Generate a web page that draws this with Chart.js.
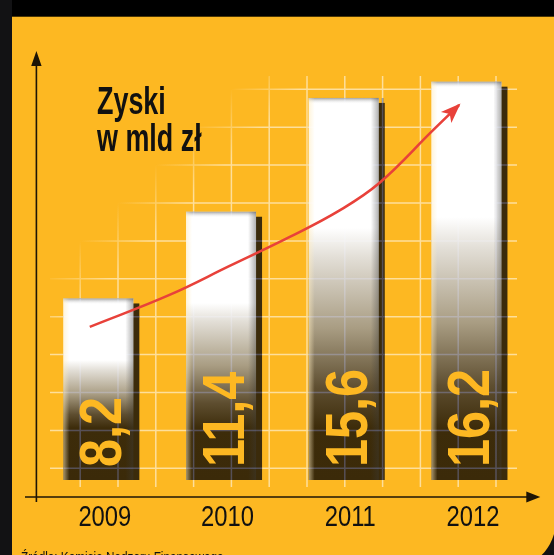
<!DOCTYPE html>
<html lang="pl">
<head>
<meta charset="utf-8">
<script src="https://cdn.jsdelivr.net/npm/chart.js@4.4.0/dist/chart.umd.min.js"></script>
<style>
html, body { margin: 0; padding: 0; }
body { width: 554px; height: 555px; background: #121214; position: relative; overflow: hidden;
       font-family: 'Liberation Sans', Arial, sans-serif; }
#topbar { position: absolute; left: 12px; top: 0; width: 542px; height: 16px; background: #000; border-bottom: 1px solid #4a3605; }
#panel { position: absolute; left: 12px; top: 17px; width: 544px; height: 553px; background: #fdb822; border-bottom-right-radius: 50px; }
#wrap { position: absolute; left: 0; top: 0; width: 554px; height: 555px; }
#title { position: absolute; left: 97px; top: 82px; font-weight: bold; font-size: 39px; line-height: 37.4px;
         color: #111; transform: scaleX(0.69); transform-origin: 0 0; white-space: nowrap; }
#source { position: absolute; left: 21px; top: 550px; font-size: 14px; line-height: 14px; color: #111;
          transform: scaleX(0.84); transform-origin: 0 0; white-space: nowrap; }
</style>
</head>
<body>
<div id="topbar"></div>
<div id="panel"></div>
<div id="wrap"><canvas id="zyski"></canvas></div>
<div id="title">Zyski<br>w mld zł</div>
<div id="source">Źródło: Komisja Nadzoru Finansowego</div>
<script>
let years = ['2009', '2010', '2011', '2012'];
let profits = [8.2, 11.4, 15.6, 16.2];
// red arrow: x = category index, y = value units
let trendX = [-0.07, 0.58, 1.07, 1.56, 1.97, 2.29, 2.73, 2.94];
let trendY = [7.15, 8.33, 9.40, 10.47, 11.46, 12.46, 14.42, 15.34];

let sans = "'Liberation Sans', Arial, sans-serif";

let trend = [];
for (var i = 0; i < trendX.length; i++) {
    trend[i] = {x: trendX[i], y: trendY[i]};
}

function barFill(c) {
    let chart = c.chart;
    if (!chart.chartArea) return '#ffffff';
    let top = chart.scales.y.getPixelForValue(c.raw);
    let bottom = chart.chartArea.bottom;
    let h = bottom - top;
    let s0 = 0.34;
    let s1 = Math.max(s0 + 0.1, (h - 52) / h);
    let g = chart.ctx.createLinearGradient(0, top, 0, bottom);
    g.addColorStop(0, '#ffffff');
    g.addColorStop(s0, '#ffffff');
    g.addColorStop(s0 + (s1 - s0) * 0.15, '#e2ded6');
    g.addColorStop(s0 + (s1 - s0) * 0.5, '#a99d83');
    g.addColorStop(s0 + (s1 - s0) * 0.8, '#5e4e30');
    g.addColorStop(s1, '#3d2c0a');
    g.addColorStop(1, '#3b2a09');
    return g;
}

function gridPath(ctx, a) {
    ctx.beginPath();
    for (var k = 0; k < 12; k++) {
        let x = a.left + 43.2 + k * 37.8;
        ctx.moveTo(x, a.top + 16);
        ctx.lineTo(x, a.bottom + 7);
    }
    for (var k = 0; k < 11; k++) {
        let y = a.top + 29.3 + k * 37.9;
        ctx.moveTo(a.left + 13, y);
        ctx.lineTo(a.left + 480, y);
    }
}

let decor = {
    id: 'decor',
    beforeDatasetsDraw(chart) {
        let ctx = chart.ctx, a = chart.chartArea;
        // background grid, fading out towards the title corner
        let fade = ctx.createLinearGradient(a.left + 123, a.top + 100, a.left + 158, a.top + 135);
        fade.addColorStop(0, 'rgba(255,255,255,0)');
        fade.addColorStop(1, 'rgba(255,255,255,0.55)');
        ctx.save();
        ctx.strokeStyle = fade;
        ctx.lineWidth = 1.5;
        gridPath(ctx, a);
        ctx.stroke();
        ctx.restore();
    },
    beforeDatasetDraw(chart, args) {
        if (args.meta.type !== 'bar') return;
        let ctx = chart.ctx, a = chart.chartArea;
        ctx.save();
        ctx.fillStyle = '#3b2b0b';
        args.meta.data.forEach(function (el) {
            let b = Math.min(el.base, a.bottom);
            ctx.fillRect(el.x - el.width / 2 + 6, el.y + 5, el.width, b - el.y - 5);
        });
        ctx.restore();
    },
    afterDatasetDraw(chart, args) {
        let ctx = chart.ctx, a = chart.chartArea;
        if (args.meta.type === 'bar') {
            let bars = args.meta.data;
            ctx.save();
            bars.forEach(function (el) {
                let l = el.x - el.width / 2, r = el.x + el.width / 2;
                let t = el.y, b = Math.min(el.base, a.bottom);
                let g = ctx.createLinearGradient(0, t, 0, t + 6);
                g.addColorStop(0, 'rgba(130,130,130,0.75)');
                g.addColorStop(1, 'rgba(255,255,255,0)');
                ctx.fillStyle = g;
                ctx.fillRect(l, t, el.width, 6);
                g = ctx.createLinearGradient(r - 8, 0, r, 0);
                g.addColorStop(0, 'rgba(60,60,60,0)');
                g.addColorStop(1, 'rgba(60,60,60,0.4)');
                ctx.fillStyle = g;
                ctx.fillRect(r - 8, t, 8, b - t);
                g = ctx.createLinearGradient(l, 0, l + 6, 0);
                g.addColorStop(0, 'rgba(255,236,190,0.55)');
                g.addColorStop(1, 'rgba(255,236,190,0)');
                ctx.fillStyle = g;
                ctx.fillRect(l, t, 6, b - t);
            });
            // grid showing faintly through the dark part of the bars
            ctx.beginPath();
            bars.forEach(function (el) {
                ctx.rect(el.x - el.width / 2, el.y, el.width + 6, Math.min(el.base, a.bottom) - el.y);
            });
            ctx.clip();
            ctx.globalCompositeOperation = 'screen';
            ctx.strokeStyle = 'rgb(34,44,80)';
            ctx.lineWidth = 1.5;
            gridPath(ctx, a);
            ctx.stroke();
            ctx.restore();
            // values written up the bars
            ctx.save();
            ctx.font = 'bold 60px ' + sans;
            ctx.fillStyle = '#fdb822';
            ctx.textAlign = 'left';
            ctx.textBaseline = 'alphabetic';
            bars.forEach(function (el, i) {
                ctx.save();
                ctx.translate(el.x + 23, a.bottom - 13);
                ctx.rotate(-Math.PI / 2);
                ctx.scale(0.84, 1);
                ctx.fillText(profits[i].toFixed(1).replace('.', ','), 0, 0);
                ctx.restore();
            });
            ctx.restore();
        } else if (args.meta.type === 'line') {
            let pts = args.meta.data;
            let p1 = pts[pts.length - 1], p0 = pts[pts.length - 2];
            let ang = Math.atan2(p1.y - p0.y, p1.x - p0.x);
            ctx.save();
            ctx.translate(p1.x, p1.y);
            ctx.rotate(ang);
            ctx.fillStyle = '#e8413a';
            ctx.beginPath();
            ctx.moveTo(2, 0);
            ctx.lineTo(-18, -7.5);
            ctx.lineTo(-13, 0);
            ctx.lineTo(-18, 7.5);
            ctx.closePath();
            ctx.fill();
            ctx.restore();
        }
    },
    afterDraw(chart) {
        let ctx = chart.ctx, a = chart.chartArea;
        let ax = a.left - 0.6, ay = a.bottom + 17;
        ctx.save();
        ctx.strokeStyle = '#1e1505';
        ctx.fillStyle = '#1e1505';
        ctx.lineWidth = 1.6;
        ctx.beginPath();
        ctx.moveTo(ax, a.bottom + 22);
        ctx.lineTo(ax, a.top);
        ctx.moveTo(a.left - 12, ay);
        ctx.lineTo(a.right, ay);
        ctx.stroke();
        ctx.beginPath();
        ctx.moveTo(ax, a.top - 9);
        ctx.lineTo(ax - 5.2, a.top + 6);
        ctx.lineTo(ax + 5.2, a.top + 6);
        ctx.closePath();
        ctx.moveTo(a.right + 12.5, ay);
        ctx.lineTo(a.right - 1.5, ay - 5.5);
        ctx.lineTo(a.right - 1.5, ay + 5.5);
        ctx.closePath();
        ctx.fill();
        // year labels under the axis, in a narrow face
        let xs = chart.scales.x;
        ctx.fillStyle = '#111';
        ctx.font = '29px ' + sans;
        ctx.textAlign = 'center';
        ctx.textBaseline = 'alphabetic';
        years.forEach(function (yr, i) {
            ctx.save();
            ctx.translate(xs.getPixelForValue(i) + 6.5, a.bottom + 46);
            ctx.scale(0.82, 1);
            ctx.fillText(yr, 0, 0);
            ctx.restore();
        });
        ctx.restore();
    }
};

let ctxZ = document.getElementById('zyski').getContext('2d');

let chartZ = new Chart(ctxZ, {
    type: 'bar',
    data: {
        labels: years,
        datasets: [{
                label: 'Zyski',
                data: profits,
                backgroundColor: barFill,
                borderWidth: 0,
                barPercentage: 0.5705,
                categoryPercentage: 1,
                grouped: false,
                order: 1
            }, {
                type: 'line',
                label: 'trend',
                data: trend,
                xAxisID: 'xt',
                yAxisID: 'y',
                borderColor: '#e8413a',
                borderWidth: 2.6,
                pointRadius: 0,
                tension: 0.4,
                fill: false,
                order: 0
            }]
    },
    options: {
        responsive: true,
        maintainAspectRatio: false,
        animation: false,
        layout: {padding: {left: 37, right: 26.2, top: 60, bottom: 0}},
        plugins: {legend: {display: false}, tooltip: {enabled: false}},
        scales: {
            x: {
                grid: {display: false, drawTicks: false},
                border: {display: false},
                ticks: {display: false},
                afterFit: function (s) { s.height = 75; }
            },
            xt: {type: 'linear', display: false, offset: false, min: -0.5, max: 3.5},
            y: {display: false, min: 1.5, max: 17}
        }
    },
    plugins: [decor]
});
</script>
</body>
</html>
